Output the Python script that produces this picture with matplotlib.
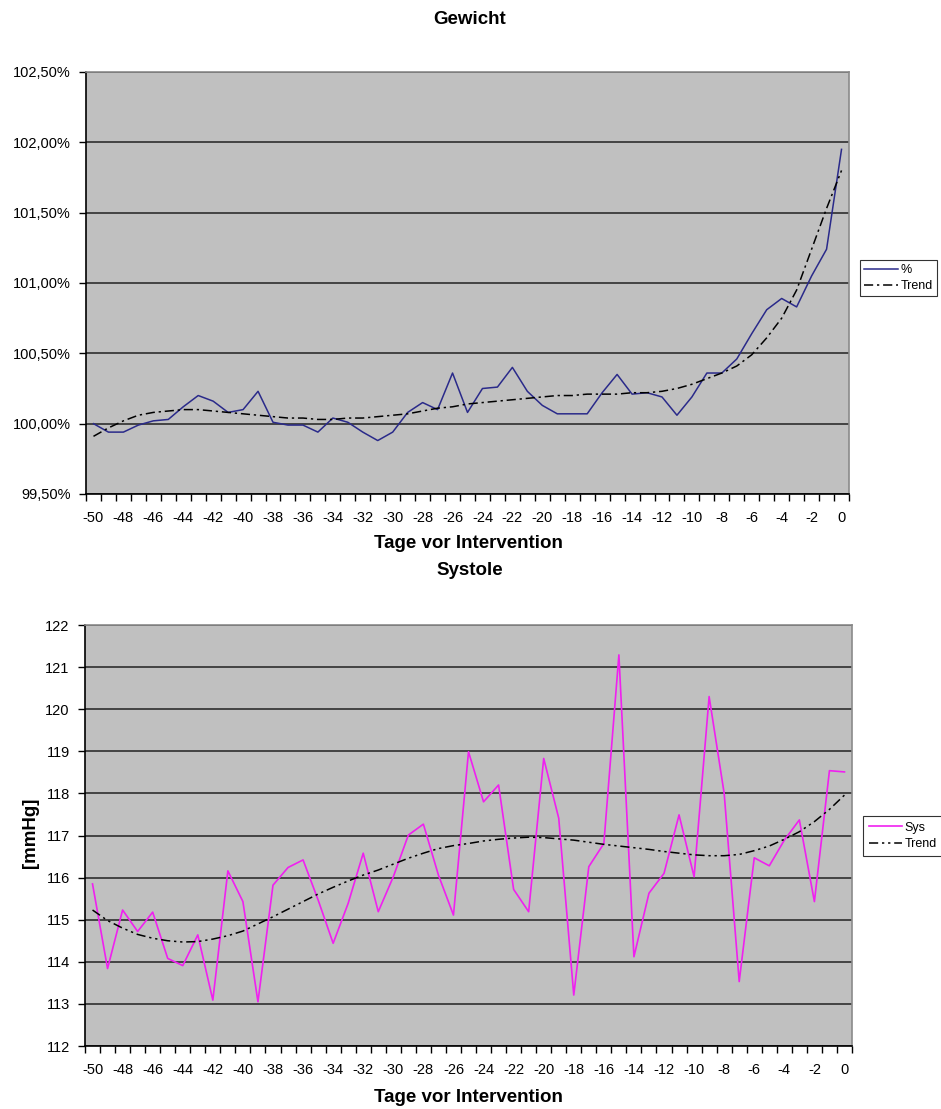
import matplotlib
matplotlib.use("Agg")
import matplotlib.pyplot as plt
from matplotlib.ticker import FuncFormatter, MultipleLocator, FixedLocator

plt.rcParams['font.family'] = ['Liberation Sans', 'DejaVu Sans']
plt.rcParams['axes.unicode_minus'] = False

# Tage vor Intervention (-50 .. 0)
days = list(range(-50, 1))

# Gewicht in % (Ausgangswert = 100 %)
gewicht = [100.00, 99.94, 99.94, 99.99, 100.02, 100.03, 100.12, 100.20, 100.16, 100.08,
           100.10, 100.23, 100.01, 99.99, 99.99, 99.94, 100.04, 100.01, 99.94, 99.88,
           99.94, 100.08, 100.15, 100.10, 100.36, 100.08, 100.25, 100.26, 100.40, 100.23,
           100.13, 100.07, 100.07, 100.07, 100.22, 100.35, 100.21, 100.22, 100.19, 100.06,
           100.19, 100.36, 100.36, 100.46, 100.64, 100.81, 100.89, 100.83, 101.05, 101.24,
           101.95]
gewicht_trend = [99.91, 99.97, 100.02, 100.06, 100.08, 100.09, 100.10, 100.10, 100.09, 100.08,
                 100.07, 100.06, 100.05, 100.04, 100.04, 100.03, 100.03, 100.04, 100.04, 100.05,
                 100.06, 100.07, 100.09, 100.11, 100.12, 100.14, 100.15, 100.16, 100.17, 100.18,
                 100.19, 100.20, 100.20, 100.21, 100.21, 100.21, 100.22, 100.22, 100.23, 100.25,
                 100.28, 100.32, 100.36, 100.41, 100.49, 100.61, 100.75, 100.95, 101.24, 101.53,
                 101.80]

# Systole in mmHg
systole = [115.85, 113.84, 115.23, 114.72, 115.18, 114.08, 113.91, 114.64, 113.09, 116.16,
           115.43, 113.05, 115.82, 116.24, 116.42, 115.47, 114.44, 115.39, 116.58, 115.19,
           116.02, 117.01, 117.27, 116.06, 115.11, 118.99, 117.80, 118.20, 115.72, 115.19,
           118.83, 117.41, 113.21, 116.26, 116.81, 121.29, 114.12, 115.63, 116.10, 117.49,
           116.02, 120.30, 118.00, 113.53, 116.47, 116.28, 116.89, 117.37, 115.43, 118.54,
           118.51]
systole_trend = [115.23, 114.98, 114.80, 114.65, 114.56, 114.50, 114.47, 114.48, 114.54, 114.62,
                 114.73, 114.90, 115.07, 115.25, 115.43, 115.61, 115.77, 115.92, 116.06, 116.18,
                 116.32, 116.46, 116.58, 116.69, 116.76, 116.81, 116.87, 116.91, 116.94, 116.96,
                 116.95, 116.92, 116.89, 116.84, 116.79, 116.75, 116.71, 116.67, 116.62, 116.58,
                 116.54, 116.52, 116.52, 116.55, 116.64, 116.75, 116.91, 117.09, 117.33, 117.62,
                 117.96]

W, H = 941, 1109
fig = plt.figure(figsize=(W / 100, H / 100), dpi=100)
fig.patch.set_facecolor('white')


def box(x0, y0, x1, y1):
    # Pixelkoordinaten (oben links) -> Figurkoordinaten
    return [x0 / W, 1 - y1 / H, (x1 - x0) / W, (y1 - y0) / H]


def style_axes(ax):
    ax.set_facecolor('#c0c0c0')
    ax.set_xlim(-50.5, 0.5)
    ax.xaxis.set_major_locator(MultipleLocator(2))
    ax.xaxis.set_minor_locator(FixedLocator([d + 0.5 for d in range(-51, 1)]))
    ax.tick_params(axis='x', which='major', length=0, pad=12, labelsize=10.5)
    ax.tick_params(axis='x', which='minor', length=5, width=1, direction='out')
    ax.tick_params(axis='y', length=5, width=1, direction='out', pad=6, labelsize=10.5)
    ax.grid(axis='y', color='#222222', linewidth=1.1)
    ax.set_axisbelow(True)
    for s in ('left', 'bottom'):
        ax.spines[s].set_color('black')
        ax.spines[s].set_linewidth(1.2)
    for s in ('top', 'right'):
        ax.spines[s].set_color('#8a8a8a')
        ax.spines[s].set_linewidth(1.2)


# --- Gewicht ---
ax1 = fig.add_axes(box(86, 72, 849, 494))
style_axes(ax1)
ax1.plot(days, gewicht, color='#2a2a8a', linewidth=1.1, label='%')
ax1.plot(days, gewicht_trend, color='black', linewidth=1.1,
         linestyle=(0, (6, 2.5, 1.5, 2.5)), label='Trend')
ax1.set_ylim(99.5, 102.5)
ax1.yaxis.set_major_locator(MultipleLocator(0.5))
ax1.yaxis.set_major_formatter(FuncFormatter(lambda v, p: f"{v:.2f}%".replace('.', ',')))
leg1 = ax1.legend(loc='center left', bbox_to_anchor=(860 / W, 1 - 278 / H),
                  bbox_transform=fig.transFigure, frameon=True, fancybox=False,
                  edgecolor='black', fontsize=9, handlelength=2.7, handletextpad=0.2,
                  borderpad=0.35, labelspacing=0.3, borderaxespad=0)
leg1.get_frame().set_linewidth(0.8)

fig.text(470 / W, 1 - 20 / H, 'Gewicht', ha='center', va='center',
         fontsize=13.5, fontweight='bold')
fig.text(468 / W, 1 - 544 / H, 'Tage vor Intervention', ha='center', va='center',
         fontsize=13.5, fontweight='bold')

# --- Systole ---
ax2 = fig.add_axes(box(85, 625, 852, 1046))
style_axes(ax2)
ax2.plot(days, systole, color='#f020f0', linewidth=1.2, label='Sys')
ax2.plot(days, systole_trend, color='black', linewidth=1.1,
         linestyle=(0, (6, 2.5, 1.5, 2.5, 1.5, 2.5)), label='Trend')
ax2.set_ylim(112, 122)
ax2.yaxis.set_major_locator(MultipleLocator(1))
leg2 = ax2.legend(loc='center left', bbox_to_anchor=(863 / W, 1 - 836 / H),
                  bbox_transform=fig.transFigure, frameon=True, fancybox=False,
                  edgecolor='black', fontsize=9, handlelength=2.7, handletextpad=0.2,
                  borderpad=0.45, labelspacing=0.35, borderaxespad=0)
leg2.get_frame().set_linewidth(0.8)

fig.text(470 / W, 1 - 570 / H, 'Systole', ha='center', va='center',
         fontsize=13.5, fontweight='bold')
fig.text(468 / W, 1 - 1097 / H, 'Tage vor Intervention', ha='center', va='center',
         fontsize=13.5, fontweight='bold')
fig.text(31 / W, 1 - 833 / H, '[mmHg]', ha='center', va='center', rotation=90,
         fontsize=13.5, fontweight='bold')

fig.savefig('out.png', dpi=100, facecolor='white')
